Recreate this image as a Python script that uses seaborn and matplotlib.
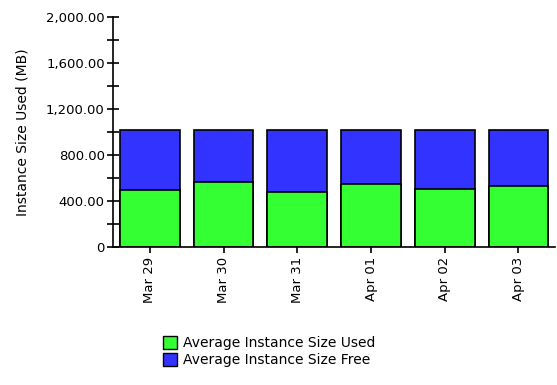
import matplotlib
matplotlib.use("Agg")
import matplotlib.pyplot as plt
import seaborn as sns
import pandas as pd
from matplotlib.ticker import MultipleLocator, FuncFormatter
from matplotlib.patches import Patch

days = ["Mar 29", "Mar 30", "Mar 31", "Apr 01", "Apr 02", "Apr 03"]
size_used = [493, 565, 478, 548, 505, 534]
size_free = [523, 451, 538, 468, 511, 482]

used_color = "#33FF33"
free_color = "#3333FF"

df = pd.DataFrame({"day": days, "used": size_used, "free": size_free})
df["total"] = df["used"] + df["free"]

sns.set_style("white")
plt.rcParams["font.family"] = ["DejaVu Sans"]
plt.rcParams["text.color"] = "black"
plt.rcParams["axes.labelcolor"] = "black"
plt.rcParams["xtick.color"] = "black"
plt.rcParams["ytick.color"] = "black"

fig = plt.figure(figsize=(5.57, 3.85), dpi=100)
ax = fig.add_axes([0.203, 0.358, 0.794, 0.598])

# stacked bars: full height in "free" colour, "used" part drawn over it
sns.barplot(data=df, x="day", y="total", color=free_color, saturation=1,
            width=0.81, edgecolor="black", linewidth=1.2, ax=ax)
sns.barplot(data=df, x="day", y="used", color=used_color, saturation=1,
            width=0.81, edgecolor="black", linewidth=1.2, ax=ax)

ax.set_xlim(-0.5, 5.5)
ax.set_ylim(0, 2000)
ax.yaxis.set_major_locator(MultipleLocator(400))
ax.yaxis.set_minor_locator(MultipleLocator(200))
ax.yaxis.set_major_formatter(FuncFormatter(lambda v, p: "0" if v == 0 else f"{v:,.2f}"))

for s in ["top", "right"]:
    ax.spines[s].set_visible(False)
for s in ["left", "bottom"]:
    ax.spines[s].set_color("black")
    ax.spines[s].set_linewidth(1.2)

ax.tick_params(axis="y", which="major", direction="inout", length=8, width=1.2,
               labelsize=9.5, left=True, pad=2)
ax.tick_params(axis="y", which="minor", direction="inout", length=8, width=1.2, left=True)
ax.tick_params(axis="x", direction="out", length=4, width=1.2, labelsize=9.5,
               bottom=True, labelrotation=90, pad=3)

ax.set_xlabel("")
ax.set_ylabel("Instance Size Used (MB)", fontsize=10, labelpad=12)

handles = [Patch(facecolor=used_color, edgecolor="black", label="Average Instance Size Used"),
           Patch(facecolor=free_color, edgecolor="black", label="Average Instance Size Free")]
fig.legend(handles=handles, loc="upper left", bbox_to_anchor=(0.292, 0.128),
           frameon=False, fontsize=10, handlelength=1.05, handleheight=1.05,
           handletextpad=0.45, labelspacing=0.2, borderaxespad=0, borderpad=0)

fig.savefig("out.png", dpi=100)
